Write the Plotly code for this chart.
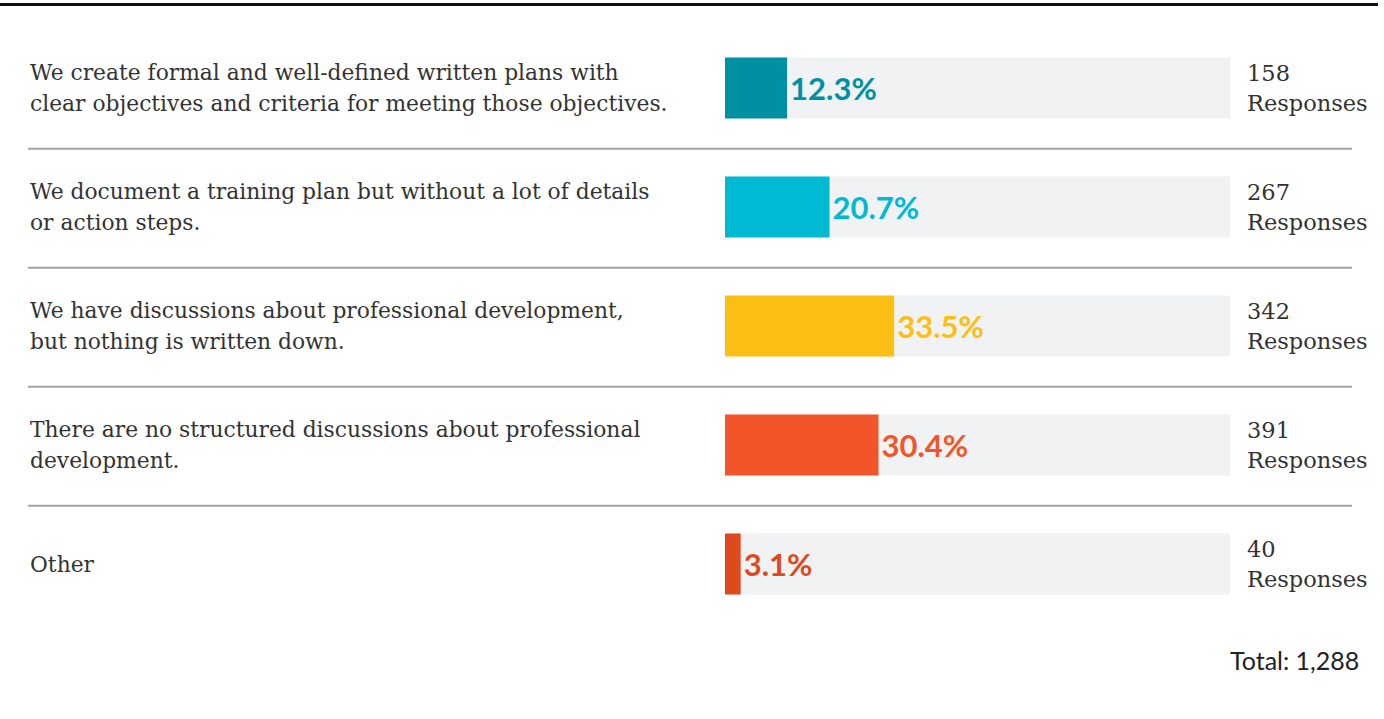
import plotly.graph_objects as go

# Survey answers, shares and response counts
answers = [
    "We create formal and well-defined written plans with<br>clear objectives and criteria for meeting those objectives.",
    "We document a training plan but without a lot of details<br>or action steps.",
    "We have discussions about professional development,<br>but nothing is written down.",
    "There are no structured discussions about professional<br>development.",
    "Other",
]
shares = [12.3, 20.7, 33.5, 30.4, 3.1]
responses = [158, 267, 342, 391, 40]
total_label = "Total: 1,288"
bar_colors = ["#0090a3", "#00b9d2", "#fbbf13", "#f2552a", "#de4a1e"]
pct_colors = ["#0090a3", "#00b9d2", "#fbbf13", "#f2552a", "#de4a1e"]

W, H = 1384, 719
rows = list(range(len(answers)))
serif = "DejaVu Serif"
LINE_GAP = 30.5  # px between text lines

fig = go.Figure()

# full-width track behind each bar
fig.add_trace(go.Bar(
    x=[100] * len(rows), y=rows, orientation="h",
    marker=dict(color="#f1f2f4", line=dict(width=0)),
    width=0.513, hoverinfo="skip", showlegend=False,
))

# the share bars with their percentage labels
fig.add_trace(go.Bar(
    x=shares, y=rows, orientation="h",
    marker=dict(color=bar_colors, line=dict(width=0)),
    width=0.513,
    text=[f"{v:.1f}%" for v in shares],
    textposition="outside",
    constraintext="none",
    cliponaxis=False,
    textfont=dict(family="Lato", size=31, color=pct_colors, weight=700),
    showlegend=False,
))


def text_block(lines, x, row, size):
    """Stack the lines vertically around the row centre."""
    out = []
    n = len(lines)
    for k, line in enumerate(lines):
        shift = ((n - 1) / 2 - k) * LINE_GAP
        out.append(dict(
            x=x, xref="paper", y=row, yref="y", yshift=shift,
            text=line, showarrow=False, xanchor="left", yanchor="middle",
            align="left",
            font=dict(family=serif, size=size, color="#333333", weight=300),
        ))
    return out


annotations = []
for i, (label, n) in enumerate(zip(answers, responses)):
    annotations += text_block(label.split("<br>"), 28 / W, i, 21.8)
    annotations += text_block([str(n), "Responses"], 1245 / W, i, 22.5)

annotations.append(dict(
    x=1361 / W, xref="paper", y=1 - 660 / H, yref="paper",
    text=total_label, showarrow=False, xanchor="right", yanchor="middle",
    font=dict(family="Lato", size=25, color="#222222"),
))

shapes = [dict(
    type="line", xref="paper", yref="paper",
    x0=0, x1=1378 / W, y0=1 - 4.5 / H, y1=1 - 4.5 / H,
    line=dict(color="#111111", width=3),
)]
for i in rows[:-1]:
    shapes.append(dict(
        type="line", xref="paper", yref="y",
        x0=28 / W, x1=1352 / W, y0=i + 0.51, y1=i + 0.51,
        line=dict(color="#a3a3a3", width=2),
    ))

fig.update_layout(
    width=W, height=H,
    margin=dict(l=0, r=0, t=0, b=0),
    paper_bgcolor="white", plot_bgcolor="white",
    barmode="overlay",
    xaxis=dict(domain=[725 / W, 1230 / W], range=[0, 100], visible=False, fixedrange=True),
    yaxis=dict(domain=[0, 1], range=[(H - 88) / 119, -88 / 119], visible=False, fixedrange=True),
    annotations=annotations,
    shapes=shapes,
)

fig.write_html("out.html")
